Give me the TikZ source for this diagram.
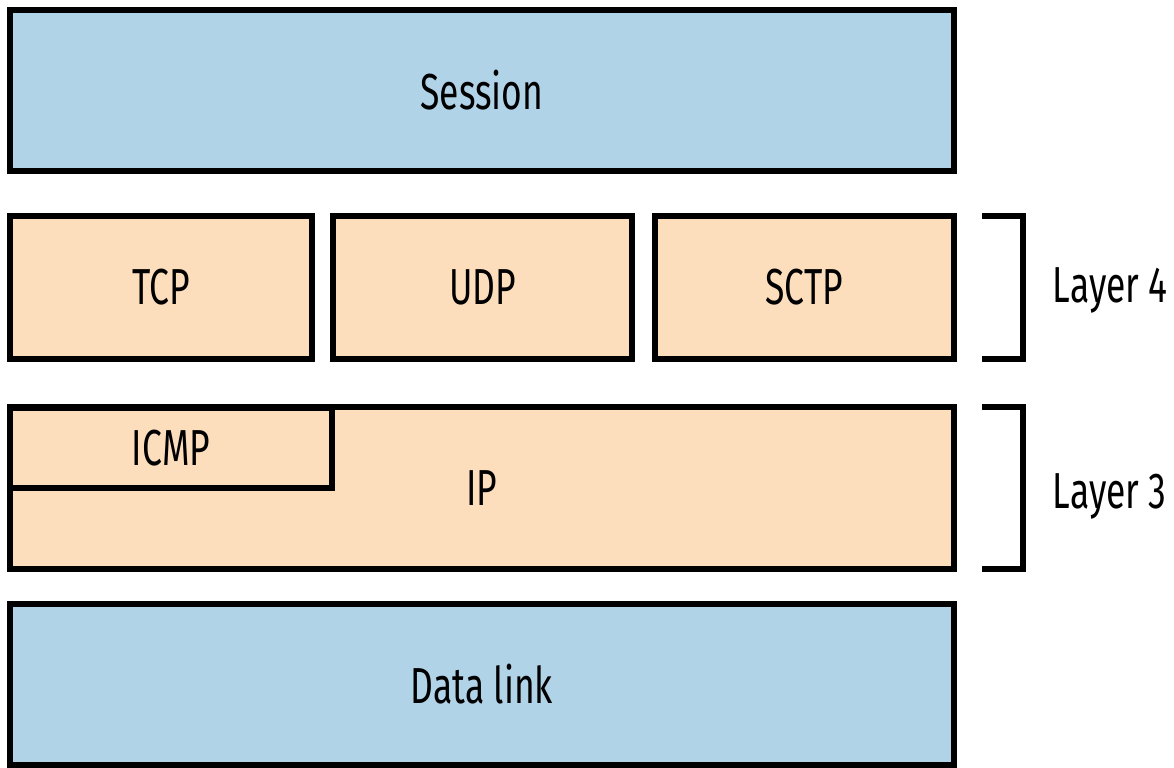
\documentclass[tikz,border=0pt]{standalone}
\usepackage{fontspec}
\setmainfont{Fira Sans}[FakeStretch=0.70]
\usetikzlibrary{positioning}
\definecolor{linkfill}{HTML}{B1D3E8}
\definecolor{protofill}{HTML}{FCDEBD}
\definecolor{darkline}{HTML}{000000}
\tikzset{
  layerbox/.style={rectangle, draw=darkline, line width=0.15cm, inner sep=0pt, outer sep=0pt, align=center, font=\fontsize{36}{40}\selectfont},
  linklayer/.style={layerbox, fill=linkfill, minimum width=23.6cm, minimum height=4.025cm},
  proto/.style={layerbox, fill=protofill, minimum height=3.575cm},
  bracket/.style={draw=darkline, line width=0.15cm},
  layer-label/.style={anchor=west, font=\fontsize{36}{40}\selectfont}
}
\begin{document}
\begin{tikzpicture}

\useasboundingbox (0,0) rectangle (29.35,19.2);

\node[linklayer] (session) at (12.05, 16.9375) {Session};

\node[proto, minimum width=7.55cm] (tcp) at (4.025, 12.0125) {TCP};
\node[proto, minimum width=7.475cm] (udp) at (12.0625, 12.0125) {UDP};
\node[proto, minimum width=7.475cm] (sctp) at (20.1125, 12.0125) {SCTP};

\node[proto, minimum width=23.6cm, minimum height=4.05cm] (ip) at (12.05, 7.0) {IP};
\node[proto, minimum width=8.05cm, minimum height=2cm] (icmp) at (4.275, 8.0) {ICMP};

\node[linklayer] (datalink) at (12.05, 2.0875) {Data link};

\draw[bracket] ([xshift=0.7cm]sctp.north east) -| ([xshift=1.725cm]sctp.south east) -- ([xshift=0.7cm]sctp.south east);
\draw[bracket] ([xshift=0.7cm]ip.north east) -| ([xshift=1.725cm]ip.south east) -- ([xshift=0.7cm]ip.south east);

\node[layer-label] (layer4) at (26.2, 11.95) {Layer 4};
\node[layer-label] (layer3) at (26.2, 6.8) {Layer 3};

\end{tikzpicture}
\end{document}
